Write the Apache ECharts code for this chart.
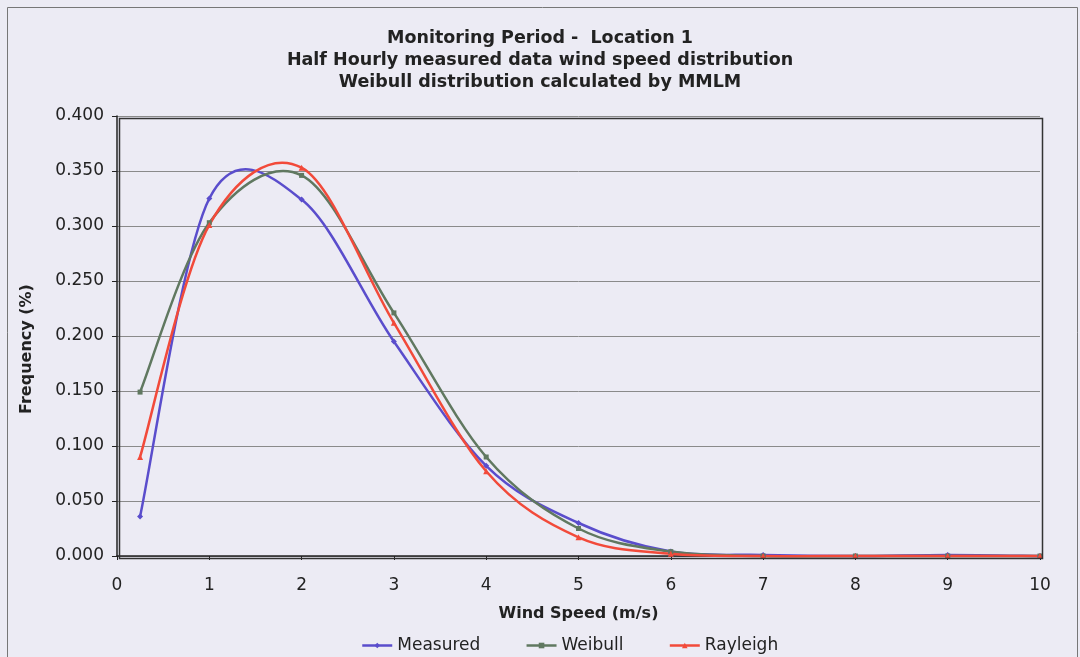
<!DOCTYPE html>
<html>
<head>
<meta charset="utf-8">
<script src="https://cdn.jsdelivr.net/npm/echarts@6/dist/echarts.min.js"></script>
<style>
html,body{margin:0;padding:0;background:#ecebf4;}
#chart{width:1080px;height:657px;}
</style>
</head>
<body>
<div id="chart"></div>
<script>
const windSpeed = [0.25, 1, 2, 3, 4, 5, 6, 7, 8, 9, 10];
const measured  = [0.036, 0.325, 0.324, 0.195, 0.082, 0.030, 0.004, 0.001, 0.000, 0.001, 0.000];
const weibull   = [0.149, 0.303, 0.346, 0.221, 0.090, 0.025, 0.004, 0.000, 0.000, 0.000, 0.000];
const rayleigh  = [0.090, 0.301, 0.353, 0.212, 0.077, 0.017, 0.002, 0.000, 0.000, 0.000, 0.000];
const seriesNames = ['Measured', 'Weibull', 'Rayleigh'];
const titleLines = ['Monitoring Period -  Location 1', 'Half Hourly measured data wind speed distribution', 'Weibull distribution calculated by MMLM'];

const colors = {Measured: '#5a4dcc', Weibull: '#607860', Rayleigh: '#f24a3a'};
const font = 'Verdana, "DejaVu Sans", sans-serif';
function pairs(ys){ return windSpeed.map((x,i)=>[x, ys[i]]); }

// Smooth curve drawn through the data points (Catmull-Rom style, like a spreadsheet's smoothed line)
function curveSeries(name, ys) {
  return {
    type: 'custom', coordinateSystem: 'cartesian2d', silent: true, z: 2,
    data: [[windSpeed[0], ys[0]]], encode: {x: 0, y: 1},
    renderItem: function (params, api) {
      const pts = windSpeed.map((x, i) => api.coord([x, ys[i]]));
      let d = 'M' + pts[0][0] + ' ' + pts[0][1];
      const t = 1 / 6;
      for (let i = 0; i < pts.length - 1; i++) {
        const p0 = pts[Math.max(i - 1, 0)], p1 = pts[i], p2 = pts[i + 1], p3 = pts[Math.min(i + 2, pts.length - 1)];
        const c1x = p1[0] + (p2[0] - p0[0]) * t, c1y = p1[1] + (p2[1] - p0[1]) * t;
        const c2x = p2[0] - (p3[0] - p1[0]) * t, c2y = p2[1] - (p3[1] - p1[1]) * t;
        d += ' C' + c1x + ' ' + c1y + ' ' + c2x + ' ' + c2y + ' ' + p2[0] + ' ' + p2[1];
      }
      return {type: 'path', shape: {pathData: d}, style: {fill: 'none', stroke: colors[name], lineWidth: 2.5}};
    }
  };
}
function markerSeries(name, ys, symbol, size) {
  return {
    name: name, type: 'line', data: pairs(ys), symbol: symbol, symbolSize: size, z: 3,
    color: colors[name], itemStyle: {color: colors[name]},
    lineStyle: {width: 2.5, color: colors[name], opacity: 0}
  };
}

const chart = echarts.init(document.getElementById('chart'), null, {renderer: 'canvas'});
chart.setOption({
  backgroundColor: '#ecebf4',
  animation: false,
  title: {
    text: titleLines.join('\n'),
    left: 'center', top: 22,
    textStyle: {fontFamily: font, fontWeight: 'bold', fontSize: 17.5, color: '#222', lineHeight: 22}
  },
  graphic: [{
    type: 'rect', left: 5, top: 5, shape: {width: 1070, height: 660},
    style: {fill: 'none', stroke: '#777', lineWidth: 1}, silent: true
  }, {
    type: 'rect', left: 117, top: 116, shape: {width: 923, height: 440},
    style: {fill: 'none', stroke: '#333', lineWidth: 1.5}, silent: true, z: 10
  }],
  grid: {left: 117, right: 40, top: 116, bottom: 101, backgroundColor: '#ecebf4', show: true, borderWidth: 0},
  legend: {
    top: 632, left: 356, itemGap: 45, itemWidth: 30, itemHeight: 7,
    textStyle: {fontFamily: font, fontSize: 17, color: '#222'},
    data: seriesNames.map(n => ({name: n, lineStyle: {opacity: 1, width: 2.5}}))
  },
  xAxis: {
    type: 'value', min: 0, max: 10, interval: 1,
    name: 'Wind Speed (m/s)', nameLocation: 'middle', nameGap: 50,
    nameTextStyle: {fontFamily: font, fontWeight: 'bold', fontSize: 16, color: '#222'},
    axisLine: {lineStyle: {color: '#222', width: 1.5}},
    axisTick: {show: true, length: 4, lineStyle: {color: '#222'}},
    axisLabel: {fontFamily: font, fontSize: 17, color: '#222', margin: 21},
    splitLine: {show: false}
  },
  yAxis: {
    type: 'value', min: 0, max: 0.4, interval: 0.05,
    name: 'Frequency (%)', nameLocation: 'middle', nameGap: 82, nameRotate: 90,
    nameTextStyle: {fontFamily: font, fontWeight: 'bold', fontSize: 16, color: '#222', padding: [0, 26, 0, 0]},
    axisLine: {show: true, lineStyle: {color: '#222', width: 1.5}},
    axisTick: {show: true, length: 5, lineStyle: {color: '#222'}},
    axisLabel: {fontFamily: font, fontSize: 17, color: '#222', margin: 13, formatter: v => v.toFixed(3)},
    splitLine: {show: true, lineStyle: {color: '#8a8a8a', width: 1}}
  },
  series: [
    markerSeries('Measured', measured, 'diamond', 6),
    markerSeries('Weibull', weibull, 'rect', 5),
    markerSeries('Rayleigh', rayleigh, 'triangle', 6),
    curveSeries('Measured', measured),
    curveSeries('Weibull', weibull),
    curveSeries('Rayleigh', rayleigh)
  ]
});
</script>
</body>
</html>
